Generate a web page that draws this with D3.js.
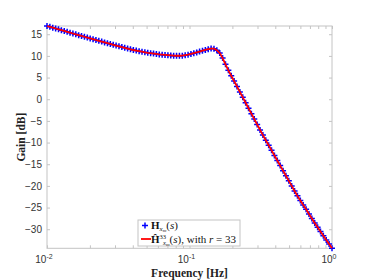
<!DOCTYPE html>
<html>
<head>
<meta charset="utf-8">
<title>Gain</title>
<script src="https://cdn.jsdelivr.net/npm/d3@7"></script>
<style>
  body { margin: 0; background: #fff; }
</style>
</head>
<body>
<svg width="374" height="280"></svg>
<script>
// frequency grid, logspace(-2, 0, 100) [Hz]
var nPts = 100;
var freqs = d3.range(nPts).map(function (i) { return Math.pow(10, -2 + 2 * i / (nPts - 1)); });

// gain of H_xm(s) [dB]
var gainFull = [16.90, 16.71, 16.52, 16.32, 16.13, 15.94, 15.75, 15.56, 15.36, 15.17,
    14.98, 14.79, 14.61, 14.42, 14.23, 14.04, 13.86, 13.67, 13.48, 13.30,
    13.11, 12.93, 12.75, 12.57, 12.39, 12.21, 12.03, 11.86, 11.69, 11.52,
    11.36, 11.23, 11.10, 10.97, 10.84, 10.72, 10.63, 10.54, 10.45, 10.35,
    10.28, 10.22, 10.16, 10.11, 10.05, 10.03, 10.04, 10.05, 10.17, 10.29,
    10.44, 10.62, 10.81, 11.01, 11.21, 11.39, 11.55, 11.70, 11.67, 11.33,
    10.66, 9.50, 8.06, 6.67, 5.43, 4.19, 2.94, 1.68, 0.43, -0.82,
    -2.07, -3.33, -4.58, -5.83, -7.08, -8.28, -9.45, -10.63, -11.80, -12.97,
    -14.14, -15.31, -16.48, -17.65, -18.83, -20.00, -21.17, -22.30, -23.35, -24.40,
    -25.39, -26.49, -27.53, -28.54, -29.55, -30.52, -31.48, -32.46, -33.43, -34.40];

// reduced model r = 33, sits right on top of the full one
var gainRed = gainFull.slice();

var yTicks = [15, 10, 5, 0, -5, -10, -15, -20, -25, -30];
var xMajor = [0.01, 0.1, 1];
var xMajorExp = ["-2", "-1", "0"];

var svg = d3.select("svg");
var pLeft = 47, pRight = 332, pTop = 26, pBottom = 248.3;

var x = d3.scaleLog().domain([0.01, 1]).range([pLeft, pRight]);
var y = d3.scaleLinear().domain(d3.extent(gainFull)).range([pBottom, pTop]);

var axisCol = "#c4c4c4", textCol = "#333";

// box
svg.append("rect")
    .attr("x", pLeft).attr("y", pTop)
    .attr("width", pRight - pLeft).attr("height", pBottom - pTop)
    .attr("fill", "none").attr("stroke", axisCol).attr("stroke-width", 1);

// y axis left with labels
var gy = svg.append("g").attr("transform", "translate(" + pLeft + ",0)")
    .call(d3.axisLeft(y).tickValues(yTicks).tickSize(-3).tickPadding(5));
gy.select(".domain").remove();
gy.selectAll("line").attr("stroke", axisCol);
gy.selectAll("text").attr("fill", textCol)
    .style("font-family", "'Liberation Sans', Arial, sans-serif").style("font-size", "10px");

// y axis right, ticks only
var gy2 = svg.append("g").attr("transform", "translate(" + pRight + ",0)")
    .call(d3.axisRight(y).tickValues(yTicks).tickSize(-3).tickFormat(""));
gy2.select(".domain").remove();
gy2.selectAll("line").attr("stroke", axisCol);

// x axes, bottom and top, major + minor ticks
var xAll = x.ticks();
var gx = svg.append("g").attr("transform", "translate(0," + pBottom + ")")
    .call(d3.axisBottom(x).tickValues(xAll).tickSize(-3).tickFormat(""));
gx.select(".domain").remove();
gx.selectAll("line").attr("stroke", axisCol);
var gx2 = svg.append("g").attr("transform", "translate(0," + pTop + ")")
    .call(d3.axisTop(x).tickValues(xAll).tickSize(-3).tickFormat(""));
gx2.select(".domain").remove();
gx2.selectAll("line").attr("stroke", axisCol);

// x tick labels 10^n
var xl = svg.append("g").selectAll("text").data(xMajor).enter().append("text")
    .attr("x", function (d) { return x(d) - 3; })
    .attr("y", 263)
    .attr("text-anchor", "middle")
    .attr("fill", textCol)
    .style("font-family", "'Liberation Sans', Arial, sans-serif").style("font-size", "10px");
xl.append("tspan").text("10");
xl.append("tspan").attr("dy", -4).style("font-size", "7px")
    .text(function (d, i) { return xMajorExp[i]; });

// axis labels
svg.append("text")
    .attr("x", (pLeft + pRight) / 2).attr("y", 276.5)
    .attr("text-anchor", "middle").attr("fill", "#222")
    .style("font-family", "'Liberation Serif', 'Times New Roman', serif")
    .style("font-weight", "bold").style("font-size", "11.5px")
    .text("Frequency [Hz]");
svg.append("text")
    .attr("transform", "translate(25," + ((pTop + pBottom) / 2) + ") rotate(-90)")
    .attr("text-anchor", "middle").attr("fill", "#222")
    .style("font-family", "'Liberation Serif', 'Times New Roman', serif")
    .style("font-weight", "bold").style("font-size", "11.5px")
    .text("Gain [dB]");

// markers for the full model
var pts = freqs.map(function (f, i) { return [f, gainFull[i]]; });
svg.append("g").selectAll("path").data(pts).enter().append("path")
    .attr("transform", function (d) { return "translate(" + x(d[0]) + "," + y(d[1]) + ")"; })
    .attr("d", "M-3,0H3M0,-3V3")
    .attr("stroke", "#0000ff").attr("stroke-width", 1.5).attr("fill", "none");

// reduced model line
var line = d3.line()
    .x(function (d, i) { return x(freqs[i]); })
    .y(function (d) { return y(d); });
svg.append("path").datum(gainRed)
    .attr("d", line)
    .attr("fill", "none").attr("stroke", "#ff0000").attr("stroke-width", 1.8);

// legend
var lg = svg.append("g");
lg.append("rect").attr("x", 138).attr("y", 220).attr("width", 102).attr("height", 26)
    .attr("fill", "#fff").attr("stroke", axisCol).attr("stroke-width", 1);
lg.append("path").attr("d", "M142,225.5H148M145,222.5V228.5")
    .attr("stroke", "#0000ff").attr("stroke-width", 1.5);
lg.append("path").attr("d", "M141,239H151")
    .attr("stroke", "#ff0000").attr("stroke-width", 1.8);

var serif = "'Liberation Serif', 'Times New Roman', serif";
var t1 = lg.append("text").attr("x", 151).attr("y", 229)
    .attr("fill", "#111").style("font-family", serif).style("font-size", "11px");
t1.append("tspan").style("font-weight", "bold").text("H");
t1.append("tspan").attr("dy", 2).style("font-size", "7px").style("font-style", "italic").text("x");
t1.append("tspan").attr("dy", 1).style("font-size", "5px").style("font-style", "italic").text("m");
t1.append("tspan").attr("dy", -3).text("(");
t1.append("tspan").style("font-style", "italic").text("s");
t1.append("tspan").text(")");

var t2 = lg.append("text").attr("x", 151).attr("y", 242.5)
    .attr("fill", "#111").style("font-family", serif).style("font-size", "11px");
t2.append("tspan").style("font-weight", "bold").text("Ĥ");
t2.append("tspan").attr("dy", -4).style("font-size", "6.5px").text("33");
t2.append("tspan").attr("dx", -3).attr("dy", 6).style("font-size", "6.5px").style("font-style", "italic").text("x");
t2.append("tspan").attr("dy", 1).style("font-size", "5px").style("font-style", "italic").text("m");
t2.append("tspan").attr("dy", -3).text("(");
t2.append("tspan").style("font-style", "italic").text("s");
t2.append("tspan").text("), with ");
t2.append("tspan").style("font-style", "italic").text("r");
t2.append("tspan").text(" = 33");
</script>
</body>
</html>
